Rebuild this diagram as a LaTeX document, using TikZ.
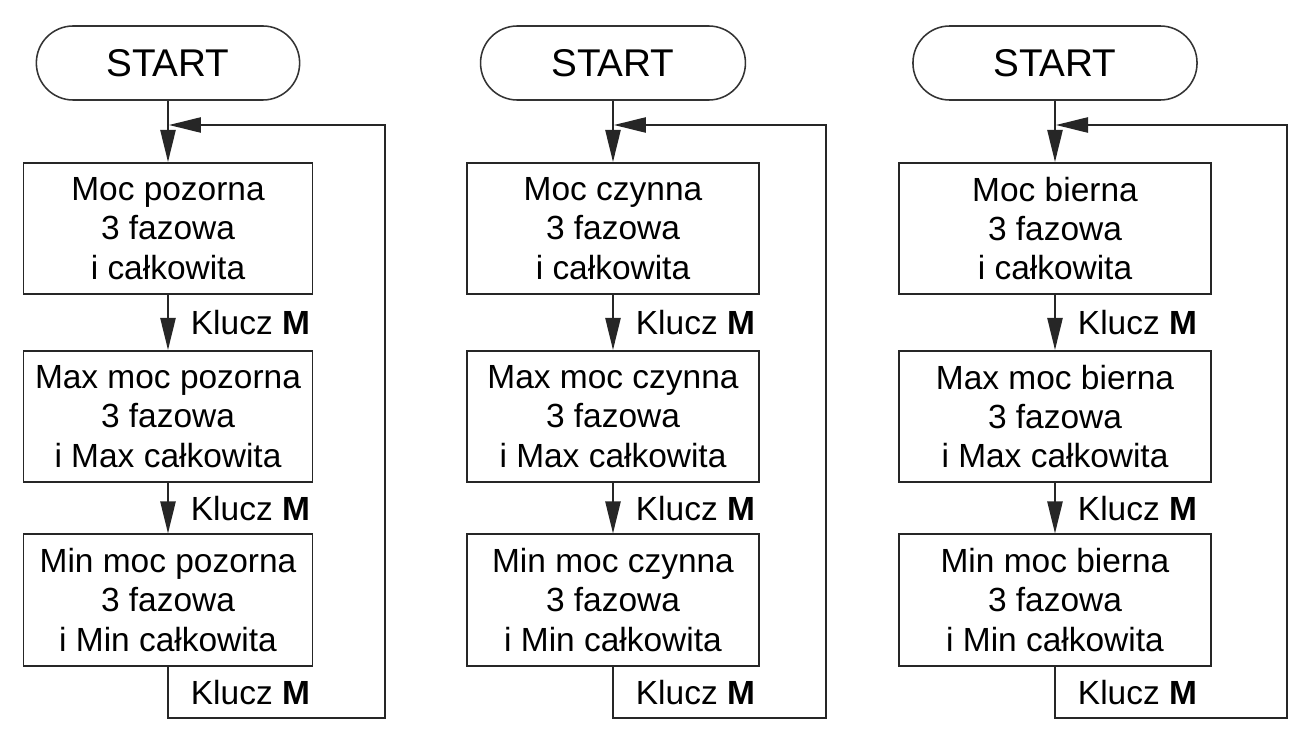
\documentclass[tikz,border=0pt]{standalone}
\usepackage{fontspec}
\setmainfont{Liberation Sans}
\usetikzlibrary{arrows.meta}
\newcommand{\flowfont}{\fontsize{23.8}{28}\selectfont}
\newcommand{\termfont}{\fontsize{27.5}{32}\selectfont}

\begin{document}
\begin{tikzpicture}[x=0.025cm, y=-0.025cm, >={Triangle[length=0.8cm, width=0.38cm]},
	term/.style={draw=black!80, line width=1.1pt, rounded corners=0.92cm, minimum height=1.85cm, font=\termfont},
	stepbox/.style={draw=black!85, line width=1.3pt, minimum height=3.28cm, align=center, font=\flowfont, inner sep=0pt},
	flow/.style={draw=black!85, line width=1.3pt},
	key/.style={anchor=west, font=\flowfont, inner sep=0pt, xshift=0.55cm}]
	\useasboundingbox (0,0) rectangle (1305,729);
	\foreach \cx/\bw/\sw/\fx/\kind in {168/7.22/6.58/385/pozorna, 613/7.3/6.62/826/czynna, 1055/7.8/7.1/1287/bierna} {
		\node[term, minimum width=\sw cm] (start\kind) at (\cx,63) {START};
		\node[stepbox, minimum width=\bw cm] (now\kind) at (\cx,228.5) {Moc \kind\\3 fazowa\\i całkowita};
		\node[stepbox, minimum width=\bw cm] (max\kind) at (\cx,416.5) {Max moc \kind\\3 fazowa\\i Max całkowita};
		\node[stepbox, minimum width=\bw cm] (min\kind) at (\cx,600) {Min moc \kind\\3 fazowa\\i Min całkowita};
		\coordinate (join\kind) at (\cx,125);
		\coordinate (low\kind) at (\cx,718);
		\coordinate (top\kind) at (\fx,125);
		\draw[flow, ->] (start\kind) -- (now\kind);
		\draw[flow, ->] (now\kind) -- node[key] {Klucz \textbf{M}} (max\kind);
		\draw[flow, ->] (max\kind) -- node[key] {Klucz \textbf{M}} (min\kind);
		\draw[flow, ->, shorten >=0.7pt] (min\kind) -- node[key] {Klucz \textbf{M}} (low\kind) -| (top\kind) -- (join\kind);
	}
\end{tikzpicture}
\end{document}
